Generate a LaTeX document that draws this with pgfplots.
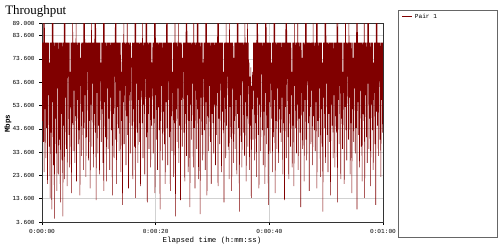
\documentclass[border=0pt]{standalone}
\usepackage{fontspec}
\setmainfont{Liberation Serif}
\setmonofont{Liberation Mono}
\usepackage{pgfplots}
\usepackage{pgfplotstable}
\pgfplotsset{compat=1.18}
\definecolor{darkred}{RGB}{128,0,0}
\pgfplotstableread[row sep=\\]{
y\\
80.6\\47\\80.6\\38\\89\\25\\89\\52\\80.6\\31\\80.6\\44\\80.6\\20\\80.6\\58\\80.6\\36\\72\\14\\80.6\\42\\80.6\\9\\89\\55\\89\\28\\80.6\\5\\80.6\\48\\80.6\\33\\80.6\\17\\80.6\\61\\80.6\\24\\
80.6\\39\\80.6\\12\\80.6\\50\\80.6\\30\\80.6\\6\\80.6\\45\\89\\22\\89\\57\\80.6\\35\\80.6\\19\\80.6\\66\\80.6\\41\\80.6\\27\\68\\53\\80.6\\16\\80.6\\46\\89\\34\\80.6\\60\\80.6\\29\\80.6\\49\\
89\\21\\80.6\\56\\80.6\\37\\80.6\\43\\80.6\\15\\74\\62\\80.6\\32\\80.6\\51\\80.6\\26\\89\\44\\89\\58\\80.6\\23\\80.6\\40\\80.6\\68\\80.6\\30\\80.6\\47\\80.6\\18\\80.6\\54\\89\\36\\80.6\\63\\
80.6\\27\\80.6\\50\\89\\42\\89\\13\\80.6\\59\\80.6\\33\\80.6\\45\\80.6\\24\\80.6\\64\\72\\38\\80.6\\52\\80.6\\29\\89\\17\\89\\55\\80.6\\40\\80.6\\21\\80.6\\61\\80.6\\35\\80.6\\48\\80.6\\26\\
80.6\\57\\80.6\\43\\80.6\\15\\80.6\\50\\80.6\\31\\80.6\\66\\89\\39\\89\\20\\80.6\\53\\80.6\\44\\80.6\\34\\80.6\\60\\80.6\\25\\68\\47\\80.6\\11\\80.6\\55\\89\\37\\80.6\\62\\80.6\\28\\80.6\\49\\
89\\41\\80.6\\18\\80.6\\58\\80.6\\33\\80.6\\70\\74\\45\\80.6\\22\\80.6\\52\\80.6\\36\\89\\14\\89\\63\\80.6\\42\\80.6\\29\\80.6\\56\\80.6\\38\\80.6\\19\\80.6\\60\\80.6\\46\\89\\31\\80.6\\54\\
80.6\\24\\80.6\\65\\89\\40\\89\\12\\80.6\\50\\80.6\\35\\80.6\\57\\80.6\\27\\80.6\\45\\72\\61\\80.6\\33\\80.6\\48\\89\\16\\89\\58\\80.6\\39\\80.6\\26\\80.6\\53\\80.6\\43\\80.6\\9\\80.6\\47\\
80.6\\62\\80.6\\30\\80.6\\51\\80.6\\37\\80.6\\20\\80.6\\55\\89\\44\\89\\28\\80.6\\64\\80.6\\40\\80.6\\17\\80.6\\49\\80.6\\34\\68\\59\\80.6\\23\\80.6\\46\\89\\6\\80.6\\52\\80.6\\38\\80.6\\61\\
89\\29\\80.6\\45\\80.6\\13\\80.6\\56\\80.6\\36\\74\\68\\80.6\\42\\80.6\\21\\80.6\\50\\89\\32\\89\\58\\80.6\\25\\80.6\\47\\80.6\\10\\80.6\\54\\80.6\\39\\80.6\\63\\80.6\\27\\89\\44\\80.6\\18\\
80.6\\60\\80.6\\35\\89\\52\\89\\22\\80.6\\48\\80.6\\7\\80.6\\57\\80.6\\41\\80.6\\30\\72\\65\\80.6\\43\\80.6\\26\\89\\55\\89\\15\\80.6\\49\\80.6\\34\\80.6\\62\\80.6\\38\\80.6\\20\\80.6\\50\\
80.6\\46\\80.6\\33\\80.6\\54\\80.6\\28\\80.6\\41\\80.6\\59\\89\\19\\89\\48\\80.6\\37\\80.6\\63\\80.6\\25\\80.6\\51\\80.6\\43\\68\\12\\80.6\\57\\80.6\\31\\89\\45\\80.6\\66\\80.6\\36\\80.6\\22\\
89\\53\\80.6\\40\\80.6\\17\\80.6\\61\\80.6\\29\\74\\47\\80.6\\35\\80.6\\56\\80.6\\24\\89\\50\\89\\44\\80.6\\8\\80.6\\58\\80.6\\38\\80.6\\27\\80.6\\64\\80.6\\42\\80.6\\32\\89\\55\\80.6\\21\\
80.6\\49\\89\\36\\80.6\\62\\72\\26\\66\\45\\70\\14\\62\\52\\68\\39\\80.6\\60\\80.6\\30\\80.6\\46\\80.6\\23\\89\\57\\89\\41\\80.6\\18\\80.6\\54\\80.6\\34\\80.6\\67\\80.6\\43\\80.6\\28\\
80.6\\51\\80.6\\20\\89\\59\\89\\37\\80.6\\44\\80.6\\11\\80.6\\55\\80.6\\33\\80.6\\63\\72\\48\\80.6\\25\\80.6\\40\\89\\56\\89\\16\\80.6\\47\\80.6\\35\\80.6\\61\\80.6\\29\\80.6\\52\\80.6\\42\\
80.6\\38\\80.6\\57\\80.6\\24\\80.6\\46\\80.6\\13\\80.6\\53\\89\\31\\89\\65\\80.6\\40\\80.6\\22\\80.6\\50\\80.6\\36\\80.6\\58\\68\\27\\80.6\\45\\80.6\\19\\89\\62\\80.6\\44\\80.6\\33\\80.6\\54\\
89\\26\\80.6\\48\\80.6\\42\\80.6\\10\\80.6\\59\\74\\35\\80.6\\51\\80.6\\21\\80.6\\56\\89\\39\\89\\30\\80.6\\64\\80.6\\46\\80.6\\17\\80.6\\53\\80.6\\37\\80.6\\60\\80.6\\28\\89\\49\\80.6\\43\\
80.6\\34\\80.6\\55\\89\\18\\89\\47\\80.6\\40\\80.6\\61\\80.6\\23\\80.6\\52\\80.6\\36\\72\\8\\80.6\\57\\80.6\\44\\89\\29\\89\\63\\80.6\\41\\80.6\\25\\80.6\\50\\80.6\\38\\80.6\\15\\80.6\\54\\
80.6\\45\\80.6\\31\\80.6\\58\\80.6\\27\\80.6\\49\\80.6\\42\\89\\12\\89\\56\\80.6\\37\\80.6\\62\\80.6\\22\\80.6\\48\\80.6\\35\\68\\59\\80.6\\20\\80.6\\53\\89\\43\\80.6\\30\\80.6\\66\\80.6\\39\\
89\\57\\80.6\\24\\80.6\\46\\80.6\\16\\80.6\\52\\74\\38\\80.6\\61\\80.6\\33\\80.6\\44\\89\\9\\89\\55\\80.6\\41\\80.6\\27\\80.6\\60\\80.6\\36\\80.6\\21\\80.6\\50\\80.6\\47\\89\\14\\80.6\\58\\
80.6\\40\\80.6\\29\\89\\63\\89\\35\\80.6\\48\\80.6\\19\\80.6\\54\\80.6\\43\\80.6\\26\\72\\59\\80.6\\37\\80.6\\11\\89\\51\\89\\45\\80.6\\32\\80.6\\64\\80.6\\39\\80.6\\23\\80.6\\56\\80.6\\42\\
80.6\\
}\datatable
\begin{document}
\begin{tikzpicture}
\path[use as bounding box] (0,0) rectangle (375pt,187.5pt);
\begin{axis}[
  at={(31.5pt,21pt)}, anchor=south west,
  width=255.75pt, height=149.25pt, scale only axis,
  xmin=0, xmax=60, ymin=3.6, ymax=89,
  xtick={0,20,40,60},
  xticklabels={0:00:00,0:00:20,0:00:40,0:01:00},
  ytick={3.6,13.6,23.6,33.6,43.6,53.6,63.6,73.6,83.6,89},
  yticklabel style={/pgf/number format/.cd,fixed,fixed zerofill,precision=3,assume math mode=true},
  tick label style={font=\fontsize{4.6}{5}\selectfont\ttfamily, text=black},
  grid=major,
  major grid style={draw=black!18, line width=0.5pt},
  tick align=outside,
  major tick length=2pt,
  xtick pos=bottom, ytick pos=left,
  tick style={black, line width=0.4pt},
  axis line style={black!80, line width=0.5pt},
  clip=true,
]
\addplot[darkred, line width=0.42pt, line join=miter] table[x expr=\coordindex*0.075, y=y] {\datatable};
\end{axis}
\node[anchor=base west, inner sep=0pt, font=\fontsize{9.7}{11}\selectfont] at (3.75pt,176.25pt) {Throughput};
\node[rotate=90, font=\fontsize{5.6}{6}\selectfont\ttfamily\bfseries] at (6pt,94.5pt) {Mbps};
\node[font=\fontsize{5.6}{6}\selectfont\ttfamily] at (159pt,6.75pt) {Elapsed time (h:mm:ss)};
\draw[black!60, line width=0.6pt] (298.5pt,9.75pt) rectangle (372.75pt,180pt);
\draw[darkred, line width=0.6pt] (301.5pt,175.5pt) -- (309pt,175.5pt);
\node[anchor=west, font=\fontsize{4.6}{5}\selectfont\ttfamily, inner sep=0pt] at (311pt,175.5pt) {Pair 1};
\end{tikzpicture}
\end{document}
